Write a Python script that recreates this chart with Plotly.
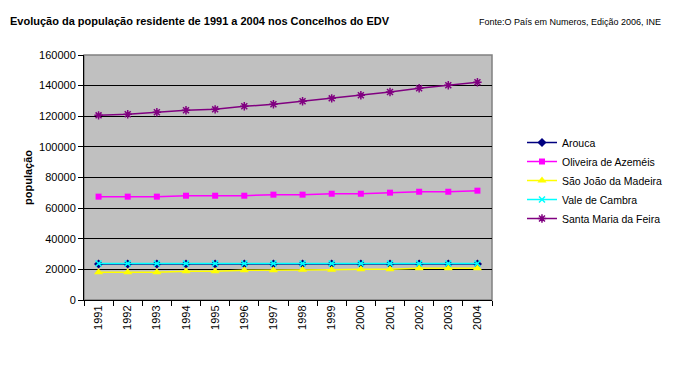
import plotly.graph_objects as go

years = ["1991", "1992", "1993", "1994", "1995", "1996", "1997",
         "1998", "1999", "2000", "2001", "2002", "2003", "2004"]

arouca = [23500, 23500, 23500, 23500, 23500, 23500, 23500,
          23500, 23500, 23500, 23500, 23500, 23500, 23500]
oliveira = [67500, 67500, 67500, 68100, 68100, 68100, 68800,
            68800, 69400, 69400, 70100, 70700, 70700, 71400]
sao_joao = [18100, 18100, 18100, 18700, 18700, 19400, 19400,
            19800, 19800, 20100, 20100, 20700, 20700, 20700]
vale_cambra = [23800, 23800, 23800, 23800, 23800, 23800, 23800,
               23800, 23800, 23800, 23800, 23800, 23800, 23800]
santa_maria = [120600, 121300, 122600, 123900, 124500, 126500, 127800,
               129800, 131700, 133700, 135800, 138300, 140200, 142200]

names = ["Arouca", "Oliveira de Azeméis", "São João da Madeira",
         "Vale de Cambra", "Santa Maria da Feira"]

FONT = "Liberation Sans, Arial, sans-serif"

fig = go.Figure()
fig.add_trace(go.Scatter(x=years, y=arouca, name=names[0], mode="lines+markers",
                         line=dict(color="#000080", width=1.5),
                         marker=dict(symbol="diamond", size=7, color="#000080")))
fig.add_trace(go.Scatter(x=years, y=oliveira, name=names[1], mode="lines+markers",
                         line=dict(color="#FF00FF", width=1.5),
                         marker=dict(symbol="square", size=6, color="#FF00FF")))
fig.add_trace(go.Scatter(x=years, y=sao_joao, name=names[2], mode="lines+markers",
                         line=dict(color="#FFFF00", width=1.5),
                         marker=dict(symbol="triangle-up", size=8, color="#FFFF00")))
fig.add_trace(go.Scatter(x=years, y=vale_cambra, name=names[3], mode="lines+markers",
                         line=dict(color="#00FFFF", width=1.5),
                         marker=dict(symbol="x-thin-open", size=6,
                                     line=dict(color="#00FFFF", width=1.5))))
fig.add_trace(go.Scatter(x=years, y=santa_maria, name=names[4], mode="lines+markers",
                         line=dict(color="#800080", width=1.5),
                         marker=dict(symbol="asterisk-open", size=7,
                                     line=dict(color="#800080", width=1.5))))

fig.update_layout(
    width=673, height=370,
    margin=dict(l=76, r=189, t=47, b=78, autoexpand=False),
    paper_bgcolor="white",
    plot_bgcolor="#C0C0C0",
    font=dict(family=FONT, size=11, color="black"),
    showlegend=True,
    legend=dict(x=1.0735, xanchor="left", y=0.702, yanchor="top",
                font=dict(family=FONT, size=10.5, color="black"),
                bgcolor="rgba(0,0,0,0)", tracegroupgap=0, itemwidth=30),
    annotations=[
        dict(text="<b>Evolução da população residente de 1991 a 2004 nos Concelhos do EDV</b>",
             xref="paper", yref="paper", x=-76/408, y=1 + 34/245,
             xanchor="left", yanchor="middle", showarrow=False,
             font=dict(family=FONT, size=11, color="black")),
        dict(text="Fonte:O País em Numeros, Edição 2006, INE",
             xref="paper", yref="paper", x=1.419, y=1 + 33/245,
             xanchor="right", yanchor="middle", showarrow=False,
             font=dict(family=FONT, size=9, color="black")),
    ],
    shapes=[dict(type="rect", xref="paper", yref="paper", x0=0, x1=1, y0=0, y1=1,
                 line=dict(color="#808080", width=1.5), layer="below")],
)

fig.update_xaxes(type="category", range=[-0.5, 13.5], tickangle=-90,
                 tickson="boundaries", ticks="outside", ticklen=5, tickcolor="black",
                 showline=True, linecolor="black", linewidth=1, showgrid=False,
                 tickfont=dict(family=FONT, size=11, color="black"), mirror=False)
fig.update_yaxes(range=[0, 160000], dtick=20000, tickformat="d",
                 ticks="outside", ticklen=5, tickcolor="black",
                 showline=True, linecolor="black", linewidth=1,
                 showgrid=True, gridcolor="black", gridwidth=1, zeroline=False,
                 tickfont=dict(family=FONT, size=11, color="black"),
                 title=dict(text="<b>população</b>", standoff=4,
                            font=dict(family=FONT, size=11, color="black")))

fig.write_html("out.html")
